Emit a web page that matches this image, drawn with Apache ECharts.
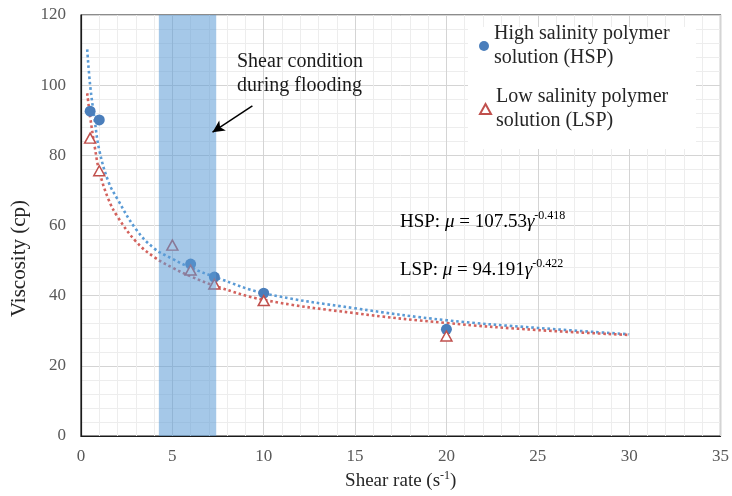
<!DOCTYPE html>
<html>
<head>
<meta charset="utf-8">
<script src="https://cdn.jsdelivr.net/npm/echarts@6/dist/echarts.min.js"></script>
<style>
html,body{margin:0;padding:0;background:#fff;}
#chart{width:732px;height:496px;}
</style>
</head>
<body>
<div id="chart"></div>
<script>
// ---- data ----
var shearHSP = [0.5, 1, 6, 7.3, 10, 20];
var viscHSP  = [92.6, 90.1, 49.0, 45.3, 40.7, 30.4];
var shearLSP = [0.5, 1, 5, 6, 7.3, 10, 20];
var viscLSP  = [84.9, 75.6, 54.4, 47.3, 43.3, 38.6, 28.5];

var trendXHSP = [0.34, 0.5, 0.75, 1, 1.5, 2, 3, 4, 5, 6, 7.5, 10, 15, 20, 25, 30];
var trendYHSP = [110.2, 100, 90, 81.5, 72.5, 67.5, 59, 53.5, 50.5, 48, 45, 40.7, 36.4, 33, 30.8, 29];
var trendXLSP = [0.34, 0.5, 0.75, 1, 1.5, 2, 3, 4, 5, 6, 7.5, 10, 15, 20, 25, 30];
var trendYLSP = [97.7, 91, 82.5, 75.5, 67.5, 62.5, 55.5, 51, 48, 45.5, 42.5, 38.8, 35, 32.2, 30.2, 28.8];

var bandRange = [4.26, 7.4];       // shear condition during flooding
var arrowFrom = [9.38, 94.1];
var arrowTo   = [7.2, 86.6];

var seriesNames = ['High salinity polymer\nsolution (HSP)', 'Low salinity polymer\nsolution (LSP)'];
var eqHSP = ['HSP: ', 'μ', ' = 107.53', 'γ', '-0.418'];
var eqLSP = ['LSP: ', 'μ', ' = 94.191', 'γ', '-0.422'];
var noteText = 'Shear condition\nduring flooding';

function zip(xs, ys){ return xs.map(function(x,i){ return [x, ys[i]]; }); }

var FF = "'Liberation Serif','Times New Roman',serif";
var chart = echarts.init(document.getElementById('chart'), null, {renderer:'canvas'});

function eq(parts){
  return '{n|' + parts[0] + '}{i|' + parts[1] + '}{n|' + parts[2] + '}{i|' + parts[3] + '}{s|' + parts[4] + '}';
}
var eqRich = {
  n: {fontFamily: FF, fontSize: 19, color: '#1a1a1a', lineHeight: 24},
  i: {fontFamily: FF, fontSize: 19, fontStyle: 'italic', color: '#1a1a1a', lineHeight: 24},
  s: {fontFamily: FF, fontSize: 12, color: '#1a1a1a', verticalAlign: 'top', lineHeight: 24}
};

var legendText = {fontFamily: FF, fontSize: 20, color: '#262626', lineHeight: 24, padding: [24, 0, 0, 0]};

var option = {
  animation: false,
  backgroundColor: '#fff',
  grid: {left: 81, right: 8, top: 15, bottom: 60, show: true, borderColor: '#1a1a1a', borderWidth: 1.2, backgroundColor: 'transparent'},
  xAxis: {
    type: 'value', min: 0, max: 35, interval: 5,
    name: 'Shear rate (s{sup|-1})', nameLocation: 'middle', nameGap: 34,
    nameTextStyle: {fontFamily: FF, fontSize: 19, color: '#262626',
      rich: {sup: {fontFamily: FF, fontSize: 12, color: '#262626', verticalAlign: 'top', lineHeight: 22}}},
    axisLine: {show: true, lineStyle: {color: '#1a1a1a', width: 1.2}},
    axisTick: {show: false},
    axisLabel: {fontFamily: FF, fontSize: 17, color: '#595959', margin: 12},
    splitLine: {show: true, lineStyle: {color: '#d4d4d4', width: 1}},
    minorTick: {show: false, splitNumber: 5},
    minorSplitLine: {show: true, lineStyle: {color: '#ededed', width: 1}}
  },
  yAxis: {
    type: 'value', min: 0, max: 120, interval: 20,
    name: 'Viscosity (cp)', nameLocation: 'middle', nameGap: 48, nameRotate: 90,
    nameTextStyle: {fontFamily: FF, fontSize: 21, color: '#262626', padding: [0, 66, 0, 0]},
    axisLine: {show: true, lineStyle: {color: '#1a1a1a', width: 1.2}},
    axisTick: {show: false},
    axisLabel: {fontFamily: FF, fontSize: 17, color: '#595959', margin: 15},
    splitLine: {show: true, lineStyle: {color: '#d4d4d4', width: 1}},
    minorTick: {show: false, splitNumber: 5},
    minorSplitLine: {show: true, lineStyle: {color: '#ededed', width: 1}}
  },
  legend: [
    {data: [seriesNames[0]], left: 479, top: 10, padding: 0, itemWidth: 10, itemHeight: 10, itemGap: 0,
     textStyle: legendText, z: 8},
    {data: [seriesNames[1]], left: 479, top: 73, padding: 0, itemWidth: 11, itemHeight: 10, itemGap: 0,
     textStyle: legendText, z: 8}
  ],
  graphic: [
    {type: 'rect', left: 468, top: 27, z: 3, shape: {width: 228, height: 122}, style: {fill: '#fff'}, silent: true},
    {type: 'text', left: 237, top: 50, z: 10, style: {text: noteText, font: '20px ' + FF, fill: '#1a1a1a', lineHeight: 24}},
    {type: 'text', left: 400, top: 210, z: 10, style: {text: eq(eqHSP), rich: eqRich}},
    {type: 'text', left: 400, top: 258, z: 10, style: {text: eq(eqLSP), rich: eqRich}}
  ],
  series: [
    {
      name: 'HSP trend', type: 'line', data: zip(trendXHSP, trendYHSP), smooth: 0.4,
      symbol: 'none', z: 2, silent: true,
      lineStyle: {color: '#5b9bd5', width: 2.6, type: [2.6, 2.8]}
    },
    {
      name: 'LSP trend', type: 'line', data: zip(trendXLSP, trendYLSP), smooth: 0.4,
      symbol: 'none', z: 2, silent: true,
      lineStyle: {color: '#d3625d', width: 2.6, type: [2.6, 2.8]}
    },
    {
      name: seriesNames[0], type: 'scatter', data: zip(shearHSP, viscHSP), symbol: 'circle', symbolSize: 11, z: 3,
      itemStyle: {color: '#4a7ebb', opacity: 1}
    },
    {
      name: seriesNames[1], type: 'scatter', data: zip(shearLSP, viscLSP), symbol: 'triangle', symbolSize: [11, 10], z: 4,
      itemStyle: {color: '#ffffff', borderColor: '#c0504d', borderWidth: 1.5, opacity: 1}
    },
    {
      name: 'band', type: 'scatter', data: [], z: 5, silent: true,
      markArea: {silent: true, z: 10, itemStyle: {color: 'rgba(91,155,213,0.55)'},
        data: [[{xAxis: bandRange[0]}, {xAxis: bandRange[1]}]]}
    },
    {
      name: 'arrow', type: 'scatter', data: [], z: 6, silent: true,
      markLine: {silent: true, z: 11, symbol: ['none', 'arrow'], symbolSize: [9, 12], label: {show: false},
        lineStyle: {color: '#000', width: 1.5, type: 'solid'},
        data: [[{coord: arrowFrom}, {coord: arrowTo}]]}
    }
  ]
};
chart.setOption(option);
</script>
</body>
</html>
